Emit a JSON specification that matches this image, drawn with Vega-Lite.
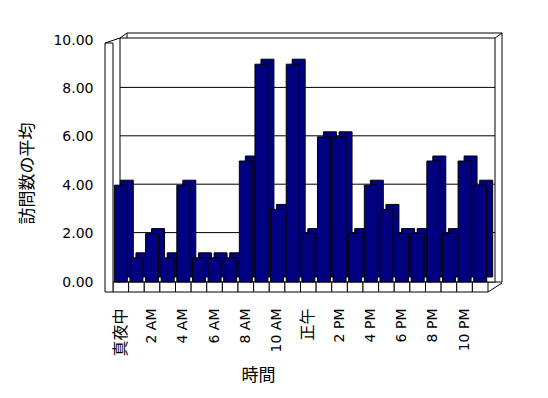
{
  "$schema": "https://vega.github.io/schema/vega-lite/v6.json",
  "width": 375,
  "height": 242,
  "autosize": "none",
  "padding": {"left": 113, "top": 40, "right": 60, "bottom": 116},
  "background": "white",
  "config": {"view": {"stroke": null}, "font": "DejaVu Sans"},
  "datasets": {
    "visits": [
      {"hour": "真夜中", "avg": 4}, {"hour": "1 AM", "avg": 1}, {"hour": "2 AM", "avg": 2}, {"hour": "3 AM", "avg": 1},
      {"hour": "4 AM", "avg": 4}, {"hour": "5 AM", "avg": 1}, {"hour": "6 AM", "avg": 1}, {"hour": "7 AM", "avg": 1},
      {"hour": "8 AM", "avg": 5}, {"hour": "9 AM", "avg": 9}, {"hour": "10 AM", "avg": 3}, {"hour": "11 AM", "avg": 9},
      {"hour": "正午", "avg": 2}, {"hour": "1 PM", "avg": 6}, {"hour": "2 PM", "avg": 6}, {"hour": "3 PM", "avg": 2},
      {"hour": "4 PM", "avg": 4}, {"hour": "5 PM", "avg": 3}, {"hour": "6 PM", "avg": 2}, {"hour": "7 PM", "avg": 2},
      {"hour": "8 PM", "avg": 5}, {"hour": "9 PM", "avg": 2}, {"hour": "10 PM", "avg": 5}, {"hour": "11 PM", "avg": 4}
    ],
    "wall": [{"x0": 0, "x1": 24, "lo": 0, "hi": 10}],
    "grid": [{"x0": 0, "x1": 24, "v": 2}, {"x0": 0, "x1": 24, "v": 4}, {"x0": 0, "x1": 24, "v": 6}, {"x0": 0, "x1": 24, "v": 8}]
  },
  "resolve": {"scale": {"x": "independent"}, "axis": {"x": "independent"}},
  "layer": [
    {
      "data": {"name": "wall"},
      "mark": {"type": "rect", "fill": "white", "stroke": "black", "strokeWidth": 1, "xOffset": 14, "x2Offset": 14, "yOffset": -7, "y2Offset": 0},
      "encoding": {
        "x": {"field": "x0", "type": "quantitative", "scale": {"domain": [0, 24], "nice": false, "zero": false}, "axis": null},
        "x2": {"field": "x1"},
        "y": {"field": "hi", "type": "quantitative"},
        "y2": {"field": "lo"}
      }
    },
    {
      "data": {"name": "wall"},
      "mark": {"type": "rect", "fill": "white", "stroke": "black", "strokeWidth": 1, "xOffset": 7, "x2Offset": 7, "yOffset": -2, "y2Offset": 0},
      "encoding": {
        "x": {"field": "x0", "type": "quantitative", "scale": {"domain": [0, 24], "nice": false, "zero": false}, "axis": null},
        "x2": {"field": "x1"},
        "y": {"field": "hi", "type": "quantitative"},
        "y2": {"field": "lo"}
      }
    },
    {
      "data": {"name": "wall"},
      "mark": {"type": "rule", "color": "black", "strokeWidth": 1, "xOffset": 7, "x2Offset": 14, "yOffset": -2, "y2Offset": -7},
      "encoding": {
        "x": {"field": "x0", "type": "quantitative", "scale": {"domain": [0, 24], "nice": false, "zero": false}, "axis": null},
        "x2": {"field": "x0"},
        "y": {"field": "hi", "type": "quantitative"},
        "y2": {"field": "hi"}
      }
    },
    {
      "data": {"name": "wall"},
      "mark": {"type": "rule", "color": "black", "strokeWidth": 1, "xOffset": 7, "x2Offset": 14, "yOffset": -2, "y2Offset": -7},
      "encoding": {
        "x": {"field": "x1", "type": "quantitative", "scale": {"domain": [0, 24], "nice": false, "zero": false}, "axis": null},
        "x2": {"field": "x1"},
        "y": {"field": "hi", "type": "quantitative"},
        "y2": {"field": "hi"}
      }
    },
    {
      "data": {"name": "grid"},
      "mark": {"type": "rule", "color": "black", "strokeWidth": 1, "xOffset": 7, "x2Offset": 7, "yOffset": -1, "y2Offset": -1},
      "encoding": {
        "x": {"field": "x0", "type": "quantitative", "scale": {"domain": [0, 24], "nice": false, "zero": false}, "axis": null},
        "x2": {"field": "x1"},
        "y": {"field": "v", "type": "quantitative"},
        "y2": {"field": "v"}
      }
    },
    {
      "data": {"name": "visits"},
      "mark": {"type": "rect", "fill": "white", "stroke": "black", "strokeWidth": 1, "y2Offset": 10},
      "encoding": {
        "x": {"field": "hour", "type": "nominal", "sort": null, "scale": {"paddingInner": 0, "paddingOuter": 0}, "axis": null},
        "y": {"datum": 0, "type": "quantitative"},
        "y2": {"datum": 0}
      }
    },
    {
      "data": {"name": "wall"},
      "mark": {"type": "rule", "color": "black", "strokeWidth": 1, "xOffset": 0, "x2Offset": 14, "yOffset": 10, "y2Offset": 1},
      "encoding": {
        "x": {"field": "x1", "type": "quantitative", "scale": {"domain": [0, 24], "nice": false, "zero": false}, "axis": null},
        "x2": {"field": "x1"},
        "y": {"field": "lo", "type": "quantitative"},
        "y2": {"field": "lo"}
      }
    },
    {
      "data": {"name": "wall"},
      "mark": {"type": "rect", "fill": "white", "stroke": "black", "strokeWidth": 1, "xOffset": -8, "x2Offset": 0, "yOffset": 3, "y2Offset": 10},
      "encoding": {
        "x": {"field": "x0", "type": "quantitative", "scale": {"domain": [0, 24], "nice": false, "zero": false}, "axis": null},
        "x2": {"field": "x0"},
        "y": {"field": "hi", "type": "quantitative"},
        "y2": {"field": "lo"}
      }
    },
    {
      "data": {"name": "wall"},
      "mark": {"type": "rule", "color": "black", "strokeWidth": 1, "xOffset": -8, "x2Offset": 7, "yOffset": 3, "y2Offset": -2},
      "encoding": {
        "x": {"field": "x0", "type": "quantitative", "scale": {"domain": [0, 24], "nice": false, "zero": false}, "axis": null},
        "x2": {"field": "x0"},
        "y": {"field": "hi", "type": "quantitative"},
        "y2": {"field": "hi"}
      }
    },
    {
      "data": {"name": "visits"},
      "mark": {"type": "bar", "fill": "#000080", "stroke": "black", "strokeWidth": 1, "width": {"band": 0.83}, "xOffset": 6, "yOffset": -5, "y2Offset": -5},
      "encoding": {
        "x": {"field": "hour", "type": "nominal", "sort": null, "scale": {"paddingInner": 0, "paddingOuter": 0}, "axis": null},
        "y": {"field": "avg", "type": "quantitative"}
      }
    },
    {
      "data": {"name": "visits"},
      "mark": {"type": "bar", "fill": "#000080", "stroke": "black", "strokeWidth": 1, "width": {"band": 0.83}},
      "encoding": {
        "x": {
          "field": "hour", "type": "nominal", "sort": null,
          "scale": {"paddingInner": 0, "paddingOuter": 0},
          "axis": {
            "values": ["真夜中", "2 AM", "4 AM", "6 AM", "8 AM", "10 AM", "正午", "2 PM", "4 PM", "6 PM", "8 PM", "10 PM"],
            "domain": false, "ticks": false, "labelAngle": 270, "labelAlign": "right", "labelBaseline": "middle",
            "labelPadding": 26, "labelOverlap": false, "labelBound": false, "labelColor": "black",
            "labelFontSize": {"condition": {"test": "datum.value === '真夜中' || datum.value === '正午'", "value": 16}, "value": 14},
            "labelFont": {"condition": {"test": "datum.value === '真夜中' || datum.value === '正午'", "value": "Noto Sans CJK JP"}, "value": "DejaVu Sans"},
            "title": "時間", "titleFont": "Noto Sans CJK JP", "titleFontSize": 17, "titleFontWeight": "normal", "titleColor": "black",
            "titleX": 145, "titleY": 93, "titleBaseline": "middle", "titleAlign": "center"
          }
        },
        "y": {
          "field": "avg", "type": "quantitative",
          "scale": {"domain": [0, 10], "nice": false},
          "axis": {
            "offset": 8, "domain": false, "ticks": false, "grid": false, "values": [0, 2, 4, 6, 8, 10], "format": ".2f",
            "labelPadding": 12, "labelFontSize": 14, "labelColor": "black",
            "title": "訪問数の平均", "titleFont": "Noto Sans CJK JP", "titleFontSize": 17, "titleFontWeight": "normal", "titleColor": "black",
            "titleX": -78, "titleY": 133, "titleAngle": 270, "titleBaseline": "middle", "titleAlign": "center"
          }
        }
      }
    }
  ]
}
